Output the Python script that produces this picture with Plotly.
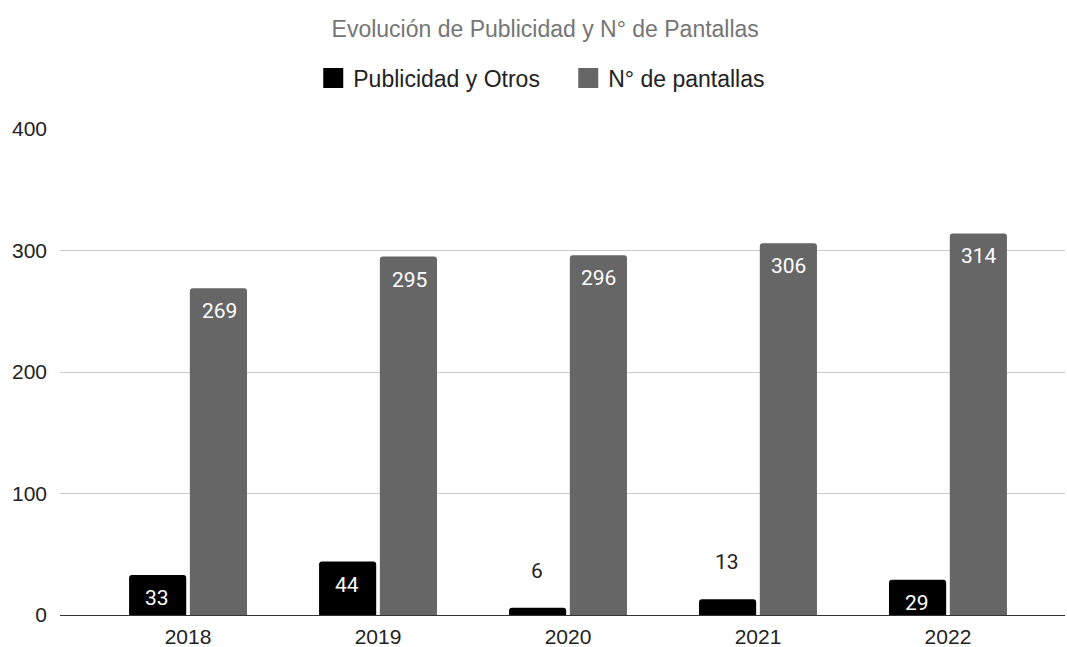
import plotly.graph_objects as go

years = ["2018", "2019", "2020", "2021", "2022"]
publicidad = [33, 44, 6, 13, 29]
pantallas = [269, 295, 296, 306, 314]

series_names = ["Publicidad y Otros", "N° de pantallas"]
series_colors = ["#000000", "#666666"]

SANS = "Liberation Sans"

fig = go.Figure()

for name, vals, color in zip(series_names, [publicidad, pantallas], series_colors):
    fig.add_trace(go.Bar(
        x=years, y=vals, name=name,
        marker=dict(color=color, cornerradius=3, line=dict(width=0)),
        showlegend=False, hoverinfo="x+y",
    ))
    # legend entry with a larger swatch
    fig.add_trace(go.Scatter(
        x=[None], y=[None], mode="markers", name=name,
        marker=dict(symbol="square", size=16, color=color,
                    line=dict(color=color, width=4)),
        showlegend=True,
    ))

# value labels: inside near the top, or above when the bar is too short
offsets = [-0.163, 0.163]
annotations = []
for k, vals in enumerate([publicidad, pantallas]):
    for i, v in enumerate(vals):
        inside = v >= 20
        annotations.append(dict(
            x=i + offsets[k], y=v, xref="x", yref="y",
            text=str(v), showarrow=False,
            yanchor="middle",
            yshift=-23 if inside else 37,
            font=dict(family="Roboto", size=21,
                      color="#ffffff" if inside else "#222222"),
        ))

fig.update_layout(
    width=1067, height=647,
    margin=dict(l=60, r=2, t=129, b=32),
    paper_bgcolor="white", plot_bgcolor="white",
    barmode="group", bargap=0.36, bargroupgap=0.06,
    title=dict(text="Evolución de Publicidad y N° de Pantallas",
               x=0.511, xref="container", xanchor="center",
               y=0.955, yref="container", yanchor="middle",
               font=dict(family=SANS, size=23, color="#757575")),
    legend=dict(orientation="h", x=0.252, xanchor="left", y=1.105,
                yanchor="middle", font=dict(family=SANS, size=23, color="#222222"),
                itemsizing="trace", traceorder="normal",
                entrywidth=210, entrywidthmode="pixels"),
    annotations=annotations,
    xaxis=dict(type="category", range=[-0.674, 4.616], showgrid=False,
               tickfont=dict(family=SANS, size=21, color="#222222"),
               ticks="", showline=False, zeroline=False,
               ticklabelstandoff=7, automargin=False),
    yaxis=dict(range=[0, 400], tickvals=[0, 100, 200, 300, 400],
               gridcolor="#cccccc", gridwidth=1,
               zeroline=True, zerolinecolor="#333333", zerolinewidth=1,
               tickfont=dict(family=SANS, size=21, color="#222222"),
               ticklabelstandoff=12, showline=False, automargin=False),
    font=dict(family=SANS),
)

fig.write_html("out.html")
